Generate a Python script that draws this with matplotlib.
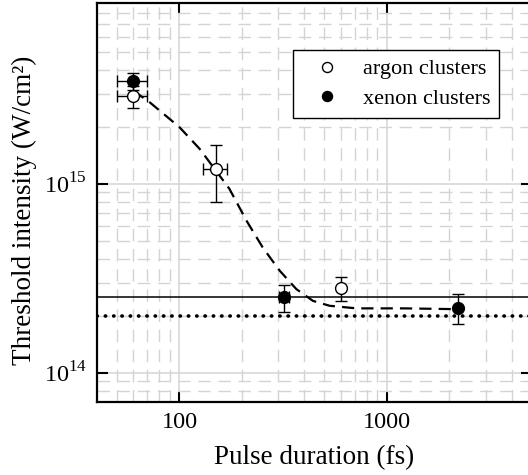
import matplotlib
matplotlib.use("Agg")
import matplotlib.pyplot as plt
from matplotlib.ticker import FixedLocator, NullFormatter

plt.rcParams["font.family"] = ["Liberation Serif", "DejaVu Serif"]
plt.rcParams["mathtext.fontset"] = "custom"
plt.rcParams["mathtext.rm"] = "Liberation Serif"
plt.rcParams["font.size"] = 17

# argon clusters (open circles)
argon_t = [60, 150, 600]
argon_I = [2.9e15, 1.2e15, 2.8e14]
argon_terr = [10, 20, 0]
argon_Ierr = [0.4e15, 0.4e15, 0.4e14]

# xenon clusters (filled circles)
xenon_t = [60, 320, 2200]
xenon_I = [3.5e15, 2.5e14, 2.2e14]
xenon_terr = [10, 18, 0]
xenon_Ierr = [0.35e15, 0.4e14, 0.4e14]

# dashed fit curve
fit_t = [60, 72, 100, 125, 150, 174, 185, 210, 252, 304, 366, 440, 530, 714, 1200, 2100]
fit_I = [3.1e15, 2.69e15, 1.99e15, 1.53e15, 1.17e15, 9.4e14, 8.3e14, 6.4e14,
         4.6e14, 3.47e14, 2.77e14, 2.4e14, 2.26e14, 2.19e14, 2.19e14, 2.17e14]

solid_level = 2.5e14
dotted_level = 2.0e14

fig = plt.figure(figsize=(5.28, 4.75), dpi=100)
ax = fig.add_axes([0.1837, 0.1537, 0.8233, 0.8393])
ax.set_xscale("log")
ax.set_yscale("log")
ax.set_xlim(40, 5000)
ax.set_ylim(7e13, 9e15)

# grid
ax.xaxis.set_minor_locator(FixedLocator([50, 60, 70, 80, 90, 200, 300, 400, 500, 600, 700, 800, 900,
                                         2000, 3000, 4000]))
ax.yaxis.set_minor_locator(FixedLocator([8e13, 9e13, 2e14, 3e14, 4e14, 5e14, 6e14, 7e14, 8e14, 9e14,
                                         2e15, 3e15, 4e15, 5e15, 6e15, 7e15, 8e15]))
ax.xaxis.set_minor_formatter(NullFormatter())
ax.yaxis.set_minor_formatter(NullFormatter())
ax.grid(True, which="major", color="#d4d4d4", lw=1.1, ls="-")
ax.grid(True, which="minor", color="#d4d4d4", lw=1.0, ls=(0, (9, 5.5)))
ax.set_axisbelow(True)
ax.set_xticks([100, 1000])
ax.set_xticklabels(["100", "1000"])
ax.set_yticks([1e14, 1e15])
ax.set_yticklabels([r"$10^{14}$", r"$10^{15}$"])
ax.tick_params(which="major", direction="in", length=8, width=1.5, top=True, right=True,
               pad=7, labelsize=17.5)
ax.tick_params(which="minor", length=0)
for s in ax.spines.values():
    s.set_linewidth(1.6)

ax.axhline(solid_level, color="black", lw=1.1, zorder=2)
ax.axhline(dotted_level, color="black", lw=2.6, ls=(0, (0.1, 2.2)),
           dash_capstyle="round", zorder=2)
ax.plot(fit_t, fit_I, color="black", lw=1.6, ls=(0, (5.5, 3.2)), zorder=3)

ax.errorbar(argon_t, argon_I, xerr=argon_terr, yerr=argon_Ierr, fmt="o", ms=8.5,
            mfc="white", mec="black", mew=1.0, ecolor="black", elinewidth=1.0,
            capsize=4, capthick=1.0, zorder=4, label="argon clusters")
ax.errorbar(xenon_t, xenon_I, xerr=xenon_terr, yerr=xenon_Ierr, fmt="o", ms=8.5,
            mfc="black", mec="black", mew=1.0, ecolor="black", elinewidth=1.0,
            capsize=4, capthick=1.0, zorder=5, label="xenon clusters")

handles, labels = ax.get_legend_handles_labels()
handles = [h[0] for h in handles]
leg = ax.legend(handles, labels, loc="upper left", bbox_to_anchor=(0.451, 0.883),
                borderaxespad=0, fancybox=False, framealpha=1, edgecolor="black",
                fontsize=16, handlelength=2.25, handletextpad=0.5, borderpad=0.4,
                labelspacing=0.4, markerscale=0.85)
leg.get_frame().set_linewidth(1.0)
leg.set_zorder(10)

ax.set_xlabel("Pulse duration (fs)", fontsize=19.5, labelpad=9)
ax.set_ylabel("Threshold intensity (W/cm²)", fontsize=19.5)
ax.yaxis.set_label_coords(-0.137, 0.48)

fig.savefig("out.png", dpi=100)
